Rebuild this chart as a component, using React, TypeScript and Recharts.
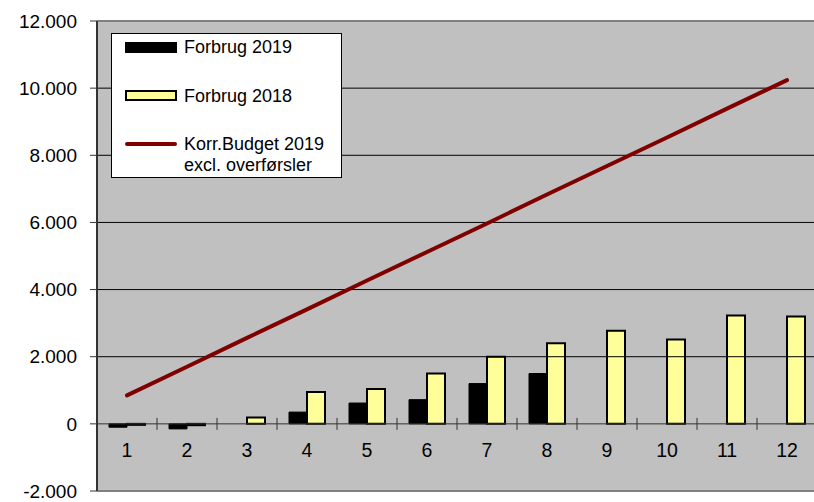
import { ComposedChart, Bar, Line, XAxis, YAxis, ReferenceLine, Legend } from 'recharts'

const months = ['1', '2', '3', '4', '5', '6', '7', '8', '9', '10', '11', '12']
const forbrug2019 = [-100, -150, null, 350, 620, 720, 1200, 1500, null, null, null, null]
const forbrug2018 = [-30, -40, 190, 950, 1040, 1500, 2000, 2400, 2770, 2510, 3230, 3200]
const budget2019 = [850, 1700, 2560, 3410, 4270, 5120, 5970, 6830, 7680, 8530, 9390, 10240]
const yTicks = [-2000, 0, 2000, 4000, 6000, 8000, 10000, 12000]
const gridValues = [2000, 4000, 6000, 8000, 10000]

const data = months.map((m, i) => ({
  month: m,
  f2019: forbrug2019[i],
  f2018: forbrug2018[i],
  budget: budget2019[i],
}))

const FONT = '"Liberation Sans", Arial, sans-serif'
const WIDTH = 830
const HEIGHT = 502
const MARGIN = { top: 21, right: 13, bottom: 0, left: 0 }
const X_HEIGHT = 11
const Y_WIDTH = 97
const PLOT_H = HEIGHT - MARGIN.top - MARGIN.bottom - X_HEIGHT
const PLOT_W = WIDTH - MARGIN.left - MARGIN.right - Y_WIDTH
const ZERO_Y = MARGIN.top + (PLOT_H * 12000) / 14000
const BAND = PLOT_W / months.length

const fmt = (v: number) => v.toString().replace(/\B(?=(\d{3})+(?!\d))/g, '.')

const MonthTick = (props: any) => {
  const { x, payload } = props
  return (
    <g>
      <line x1={x + BAND / 2} x2={x + BAND / 2} y1={ZERO_Y - 6} y2={ZERO_Y + 6} stroke="#333" strokeWidth={1} />
      <text x={x} y={ZERO_Y + 33} textAnchor="middle" fontSize={19.5} fontFamily={FONT} fill="#000">
        {payload.value}
      </text>
    </g>
  )
}

const LegendBox = () => (
  <div
    style={{
      width: 229,
      height: 143,
      background: '#fff',
      border: '1px solid #000',
      fontFamily: FONT,
      fontSize: 18,
      color: '#000',
      position: 'relative',
    }}
  >
    <div style={{ position: 'absolute', left: 13, top: 8, width: 52, height: 11, background: '#000' }} />
    <div style={{ position: 'absolute', left: 72, top: 3, lineHeight: '20px' }}>Forbrug 2019</div>
    <div
      style={{
        position: 'absolute', left: 13, top: 56, width: 48, height: 7,
        background: '#ffff99', border: '2px solid #000',
      }}
    />
    <div style={{ position: 'absolute', left: 72, top: 52, lineHeight: '20px' }}>Forbrug 2018</div>
    <div style={{ position: 'absolute', left: 13, top: 108, width: 52, height: 4, borderRadius: 2, background: '#800000' }} />
    <div style={{ position: 'absolute', left: 72, top: 100, lineHeight: '21px' }}>
      Korr.Budget 2019
      <br />
      excl. overførsler
    </div>
  </div>
)

export default function App() {
  return (
    <div style={{ position: 'fixed', left: 0, top: 0, width: 814, height: 502, overflow: 'hidden', background: '#fff' }}>
      <ComposedChart width={WIDTH} height={HEIGHT} data={data} margin={MARGIN} barCategoryGap="20%" barGap={0}>
        <rect x={Y_WIDTH} y={MARGIN.top} width={PLOT_W} height={PLOT_H} fill="#c0c0c0" />
        {gridValues.map((v) => (
          <ReferenceLine key={v} y={v} stroke="#000" strokeWidth={1} />
        ))}
        <ReferenceLine y={12000} stroke="#808080" strokeWidth={2} />
        <ReferenceLine y={-2000} stroke="#808080" strokeWidth={2} />
        <ReferenceLine y={0} stroke="#333" strokeWidth={1} />
        <XAxis
          dataKey="month"
          height={X_HEIGHT}
          axisLine={false}
          tickLine={false}
          interval={0}
          tick={(p: any) => <MonthTick {...p} />}
        />
        <YAxis
          width={Y_WIDTH}
          domain={[-2000, 12000]}
          ticks={yTicks}
          interval={0}
          tickFormatter={fmt}
          tickSize={7}
          tickMargin={13}
          axisLine={{ stroke: '#333', strokeWidth: 2 }}
          tickLine={{ stroke: '#333', strokeWidth: 1 }}
          tick={{ fontSize: 19, fontFamily: FONT, fill: '#000' }}
          allowDataOverflow
        />
        <Legend
          layout="vertical"
          align="center"
          verticalAlign="middle"
          content={<LegendBox />}
          wrapperStyle={{ left: 111, top: 33, width: 231, height: 145 }}
        />
        <Bar dataKey="f2019" name="Forbrug 2019" fill="#000" stroke="#000" strokeWidth={1} isAnimationActive={false} />
        <Bar dataKey="f2018" name="Forbrug 2018" fill="#ffff99" stroke="#000" strokeWidth={2} isAnimationActive={false} />
        <Line
          dataKey="budget"
          name="Korr.Budget 2019 excl. overførsler"
          type="linear"
          stroke="#800000"
          strokeWidth={4}
          strokeLinecap="round"
          dot={false}
          activeDot={false}
          isAnimationActive={false}
        />
      </ComposedChart>
    </div>
  )
}
